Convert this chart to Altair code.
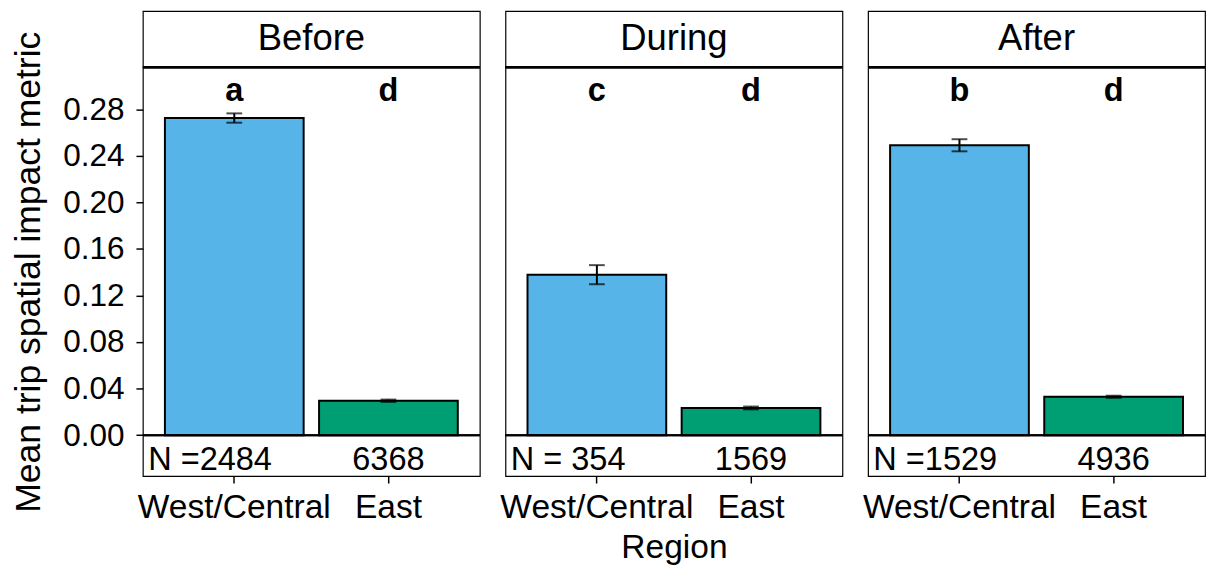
import altair as alt
import pandas as pd

# Study periods (facets) and regions (bars within each facet)
periods = ["Before", "During", "After"]
regions = ["West/Central", "East"]

# Mean trip spatial impact metric and its standard error
means_west = [0.2725, 0.1379, 0.2491]
means_east = [0.0296, 0.0234, 0.0330]
se_west = [0.0040, 0.0082, 0.0052]
se_east = [0.0010, 0.0012, 0.0009]

# Significance-group letters
letters_west = ["a", "c", "b"]
letters_east = ["d", "d", "d"]

# Sample sizes
n_west = [2484, 354, 1529]
n_east = [6368, 1569, 4936]

rows = []
for i, p in enumerate(periods):
    rows.append(dict(period=p, region=regions[0], mean=means_west[i],
                     lo=means_west[i] - se_west[i], hi=means_west[i] + se_west[i],
                     letter=letters_west[i], nlabel=f"N ={n_west[i]:>4}"))
    rows.append(dict(period=p, region=regions[1], mean=means_east[i],
                     lo=means_east[i] - se_east[i], hi=means_east[i] + se_east[i],
                     letter=letters_east[i], nlabel=f"{n_east[i]}"))
df = pd.DataFrame(rows)

FONT = "Liberation Sans"
Y_MIN, Y_MAX = -0.0352, 0.3644   # panel bottom .. strip top
STRIP_LINE = 0.3162              # boundary between strip and plotting area
STRIP_MID = (STRIP_LINE + Y_MAX) / 2
LETTER_Y = 0.296
N_Y = -0.0214
PANEL_W, PANEL_H = 342, 472
STRIP_H = 57                     # strip height in pixels
Y_TICKS = [0.0, 0.04, 0.08, 0.12, 0.16, 0.20, 0.24, 0.28]

yscale = alt.Scale(domain=[Y_MIN, Y_MAX], nice=False, zero=False)
xscale = alt.Scale(domain=regions, paddingInner=0.1, paddingOuter=0.143)
color_scale = alt.Scale(domain=regions, range=["#56B4E9", "#009E73"])


def panel(idx):
    p = periods[idx]
    d = df[df.period == p]
    base = alt.Chart(d)

    if idx == 0:
        # centre the y title on the plotting area below the strip
        yaxis = alt.Axis(values=Y_TICKS, format=".2f",
                         title="Mean trip spatial impact metric",
                         titleY=STRIP_H + (PANEL_H - STRIP_H) / 2)
    else:
        yaxis = None
    xaxis = alt.Axis(title="Region" if idx == 1 else None, labelAngle=0,
                     labelLimit=0)

    x = alt.X("region:N", scale=xscale, axis=xaxis, sort=regions)

    bars = base.mark_bar(stroke="black", strokeWidth=2).encode(
        x=x,
        y=alt.Y("mean:Q", scale=yscale, axis=yaxis),
        y2=alt.datum(0),
        color=alt.Color("region:N", scale=color_scale, legend=None),
    )
    zero = base.mark_rule(color="black", strokeWidth=2).encode(y=alt.datum(0))
    strip_line = base.mark_rule(color="black", strokeWidth=2.5).encode(
        y=alt.datum(STRIP_LINE))
    err = base.mark_rule(color="black", strokeWidth=2).encode(
        x=x, y="lo:Q", y2="hi:Q")
    caps = base.transform_fold(["lo", "hi"], as_=["end", "val"]).mark_tick(
        color="black", thickness=2, size=16, orient="horizontal").encode(
        x=x, y="val:Q")
    letters = base.mark_text(font=FONT, fontSize=33, fontWeight="bold",
                             baseline="middle").encode(
        x=x, y=alt.datum(LETTER_Y), text="letter:N")
    n_west_txt = base.transform_filter(alt.datum.region == regions[0]).mark_text(
        font=FONT, fontSize=33, align="left", baseline="middle", dx=-17).encode(
        x=alt.X("region:N", scale=xscale, axis=xaxis, sort=regions, bandPosition=0),
        y=alt.datum(N_Y), text="nlabel:N")
    n_east_txt = base.transform_filter(alt.datum.region == regions[1]).mark_text(
        font=FONT, fontSize=33, align="center", baseline="middle").encode(
        x=x, y=alt.datum(N_Y), text="nlabel:N")
    strip_txt = alt.Chart(pd.DataFrame({"period": [p]})).mark_text(
        font=FONT, fontSize=37, baseline="middle").encode(
        x=alt.value(PANEL_W / 2), y=alt.datum(STRIP_MID), text="period:N")

    return alt.layer(bars, zero, strip_line, err, caps, letters,
                     n_west_txt, n_east_txt, strip_txt).properties(
        width=PANEL_W, height=PANEL_H)


chart = alt.hconcat(*[panel(i) for i in range(3)], spacing=17).properties(
    padding={"left": 10, "top": 6, "right": 0, "bottom": 0},
    background="white",
).configure_view(
    stroke="black", strokeWidth=1.2
).configure_axis(
    labelFont=FONT, labelFontSize=32, labelColor="black",
    titleFont=FONT, titleFontSize=36, titleFontWeight="normal", titleColor="black",
    tickColor="black", tickSize=7, tickWidth=1.5, domain=False, grid=False,
    labelPadding=12, titlePadding=16,
).configure_axisX(
    labelFontSize=34, labelPadding=8, titlePadding=7, titleFontSize=34,
)

chart.save("out.html", embed_options={"renderer": "svg", "actions": False})
